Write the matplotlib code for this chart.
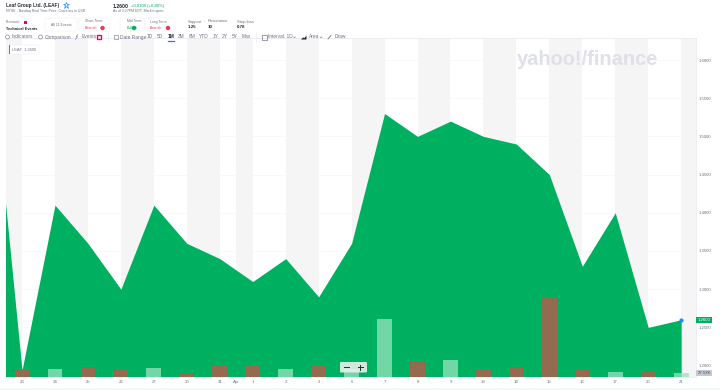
#!/usr/bin/python3
#
# Yahoo Finance area chart of LEAF, one month of closes with volume bars.

import matplotlib.pyplot as plt
import matplotlib.patches as patches
import numpy as np

day_labels = ["23", "24", "25", "26", "27", "30", "31", "1", "2", "3", "6", "7",
              "8", "9", "13", "14", "15", "16", "17", "20", "21"]
prev_close = 1.63
closes = [1.194, 1.41, 1.36, 1.30, 1.41, 1.36, 1.34, 1.31, 1.34, 1.29, 1.36,
          1.53, 1.50, 1.52, 1.50, 1.49, 1.45, 1.33, 1.40, 1.25, 1.26]
volumes_k = [50, 50, 57, 46, 57, 14, 80, 76, 50, 78, 55, 397, 105, 112, 53, 62,
             550, 48, 28, 41, 27.53]
volume_up = [False, True, False, False, True, False, False, False, True, False,
             True, True, False, True, False, False, False, False, True, False, True]
price_ticks = [1.20, 1.25, 1.30, 1.35, 1.40, 1.45, 1.50, 1.55, 1.60]
# Alternating background stripes, in trading day positions.
stripes = [(-1, 0), (1, 2), (3, 4), (5, 6), (6.5, 7), (8, 9), (10, 11), (12, 13),
           (14, 15), (16, 17), (18, 19), (20, 21)]

green = "#00b061"
red = "#ec3b4d"
grey = "#6e7280"
dark = "#232a31"


def draw_chart(fig):
    ax = fig.add_axes([6 / 720, 1 - 376.5 / 390, 690 / 720, 338.5 / 390])
    x = np.arange(len(closes))
    ax.set_xlim(-0.486, 20.45)
    ax.set_ylim(1.1857, 1.6288)

    for (a, b) in stripes:
        ax.axvspan(a, b, color="#f5f5f5", lw=0, zorder=0)
    for p in price_ticks:
        ax.axhline(p, color="#f5f5f7", lw=0.5, zorder=1)

    ax.text(0.740, 0.9355, "yahoo!/finance", transform=ax.transAxes, ha="left",
            va="center", weight="bold", fontsize=14.4, color="#dfe0e8", zorder=1)

    xs = np.concatenate(([-1], x))
    ys = np.concatenate(([prev_close], closes))
    ax.fill_between(xs, ys, 1.1857, color=green, lw=0, zorder=2)
    ax.plot(x[-1], closes[-1], "o", ms=2, color="#188fff", zorder=6)

    vol = ax.twinx()
    vol.set_ylim(0, 2330)
    vol.axis("off")
    for i in x:
        if volume_up[i]:
            vol.bar(i, volumes_k[i], width=0.45, color="#9be3bf", alpha=0.75, lw=0)
        else:
            vol.bar(i, volumes_k[i], width=0.45, color="#946b4f", lw=0)

    ticks = list(x) + [6.5]
    ax.set_xticks(ticks)
    ax.set_xticklabels(day_labels + ["Apr"])
    ax.get_xticklabels()[-1].set_color(dark)
    ax.yaxis.tick_right()
    ax.set_yticks(price_ticks)
    ax.set_yticklabels([f"{p:.4f}" for p in price_ticks])
    ax.tick_params(axis="both", length=0, labelsize=3.1, labelcolor=grey)
    ax.tick_params(axis="x", pad=2.5)
    ax.tick_params(axis="y", pad=2.2)
    for name in ("left", "right", "top", "bottom"):
        ax.spines[name].set_color("#e6e7ec")
        ax.spines[name].set_linewidth(0.5)
    ax.spines["left"].set_visible(False)


def draw_header(fig):
    # Overlay in picture pixels for the page furniture around the chart.
    top = fig.add_axes([0, 0, 1, 1], facecolor="none")
    top.set_xlim(0, 720)
    top.set_ylim(390, 0)
    top.axis("off")

    def txt(px, py, s, size=2.5, color=grey, weight="normal", ha="left"):
        top.text(px, py, s, fontsize=size, color=color, weight=weight, ha=ha, va="center")

    def box(x0, y0, w, h, face="white", edge="#eeeff2", alpha=1.0):
        top.add_patch(patches.FancyBboxPatch((x0, y0), w, h, boxstyle="round,pad=0,rounding_size=1",
                                             fc=face, ec=edge, lw=0.4, alpha=alpha))

    def dot(px, py, color, r=2.2):
        top.add_patch(patches.Circle((px, py), r, fc=color, ec="none"))

    def ring(px, py):
        top.add_patch(patches.Circle((px, py), 2, fc="none", ec=grey, lw=0.4))

    def chevron(px, py):
        top.plot([px - 1, px, px + 1], [py - 0.5, py + 0.5, py - 0.5], color=grey, lw=0.4)

    txt(6, 5.2, "Leaf Group Ltd. (LEAF)", 3.4, dark, "bold")
    top.plot(65.5, 5, "*", ms=4.5, mfc="none", mec="#188fff", mew=0.5)
    txt(6, 11, "NYSE - Nasdaq Real Time Price. Currency in USD")
    txt(113, 6, "1.2600", 3.7, dark, "bold")
    txt(131, 6, "+0.0100 (+0.80%)", 3.1, green)
    txt(113, 11, "As of 3:27PM EDT. Market open.")

    txt(6, 22, "Premium:")
    top.add_patch(patches.Rectangle((24, 20.5), 3, 3, fc="#e6007e", ec="none"))
    txt(6, 28.5, "Technical Events", 2.8, dark, "bold")
    box(45, 18, 32, 13)
    txt(61, 24.5, "All 11 Events", ha="center")

    box(79, 18, 30, 13)
    box(120, 18, 24, 13)
    box(145, 18, 30, 13)
    txt(85, 21.5, "Short Term")
    txt(85, 28, "Bearish", 2.6, red)
    dot(102.5, 28, red)
    txt(127, 21.5, "Mid Term")
    txt(127, 28, "Bullish", 2.6, green)
    dot(134, 28, green)
    txt(150, 21.5, "Long Term")
    txt(150, 28, "Bearish", 2.6, red)
    dot(168, 28, red)

    txt(188, 21.5, "Support", 3)
    txt(203.5, 21.5, "-", 3)
    txt(208, 21.5, "Resistance", 3)
    txt(188, 27.5, "1.25", 3.2, dark, "bold")
    txt(208, 27.5, "10", 3.2, dark, "bold")
    txt(237, 21.5, "Stop loss", 3)
    txt(237, 27.5, "0.78", 3.2, dark, "bold")

    # Toolbar row.
    ring(7.5, 37)
    txt(12, 37, "Indicators", 3.5)
    ring(40.5, 37)
    txt(45, 37, "Comparison", 3.5)
    top.plot([75.5, 77.5, 76, 78], [39.5, 36.8, 36.8, 34.5], color=grey, lw=0.4)
    txt(82, 37, "Events", 3.5)
    top.add_patch(patches.Rectangle((97, 35), 4, 4, fc="white", ec="#e6007e", lw=1))
    top.plot([108, 108], [33, 41], color="#e6e7ec", lw=0.5)
    top.add_patch(patches.Rectangle((114, 35), 4, 4, fc="none", ec=grey, lw=0.4))
    txt(120, 37, "Date Range", 3.5)
    for (px, s) in [(150, "1D"), (160, "5D"), (181, "3M"), (192, "6M"), (204, "YTD"),
                    (216, "1Y"), (225, "2Y"), (235, "5Y"), (246, "Max")]:
        txt(px, 37, s, 3.5, ha="center")
    txt(171, 37, "1M", 3.5, dark, "bold", ha="center")
    top.plot([168, 174], [41.2, 41.2], color="#5b5fe0", lw=0.9)
    top.plot([256, 256], [33, 41], color="#e6e7ec", lw=0.5)
    top.add_patch(patches.Rectangle((262, 35), 5, 4.5, fc="none", ec=grey, lw=0.5))
    txt(268.5, 37, "Interval: 1D", 3.4)
    chevron(294.5, 37.3)
    top.add_patch(patches.Polygon([[301, 39.5], [303, 37.5], [304.5, 38], [306.5, 35.5], [306.5, 39.5]],
                                  fc=dark, ec="none"))
    txt(309, 37, "Area", 3.5)
    chevron(321, 37.3)
    top.plot([328, 331], [39, 35.5], color=grey, lw=0.6)
    txt(335, 37, "Draw", 3.5)

    # Price label top left, zoom control and axis tags.
    box(9, 45, 30, 9, edge="#f0f0f2")
    top.add_patch(patches.Rectangle((9, 45), 1.4, 9, fc="#188fff", ec="none"))
    txt(12, 49.7, "LEAF  1.2600", 2.8)

    box(340, 362, 27, 10.5, face="#e8f0ea", edge="none", alpha=0.9)
    top.plot([344, 349], [367, 367], color=dark, lw=0.7)
    top.plot([357.5, 362.5], [367, 367], color=dark, lw=0.7)
    top.plot([360, 360], [364.5, 369.5], color=dark, lw=0.7)

    top.add_patch(patches.Rectangle((696, 317), 16, 6.3, fc=green, ec="none"))
    txt(704, 320.2, "1.2600", 3.1, "white", ha="center")
    top.add_patch(patches.Rectangle((696, 369.5), 16, 6, fc="#c5c8d6", ec="none"))
    txt(704, 372.5, "27.53K", 3.1, "#464e56", ha="center")

    top.add_patch(patches.Rectangle((0, 388), 720, 2, fc="#f5f6f7", ec="none"))


def main():
    plt.rcParams["font.family"] = ["Liberation Sans", "DejaVu Sans"]
    fig = plt.figure(figsize=(7.2, 3.9), dpi=100)
    draw_chart(fig)
    draw_header(fig)
    fig.savefig("out.png", dpi=100)


if __name__ == "__main__":
    main()
